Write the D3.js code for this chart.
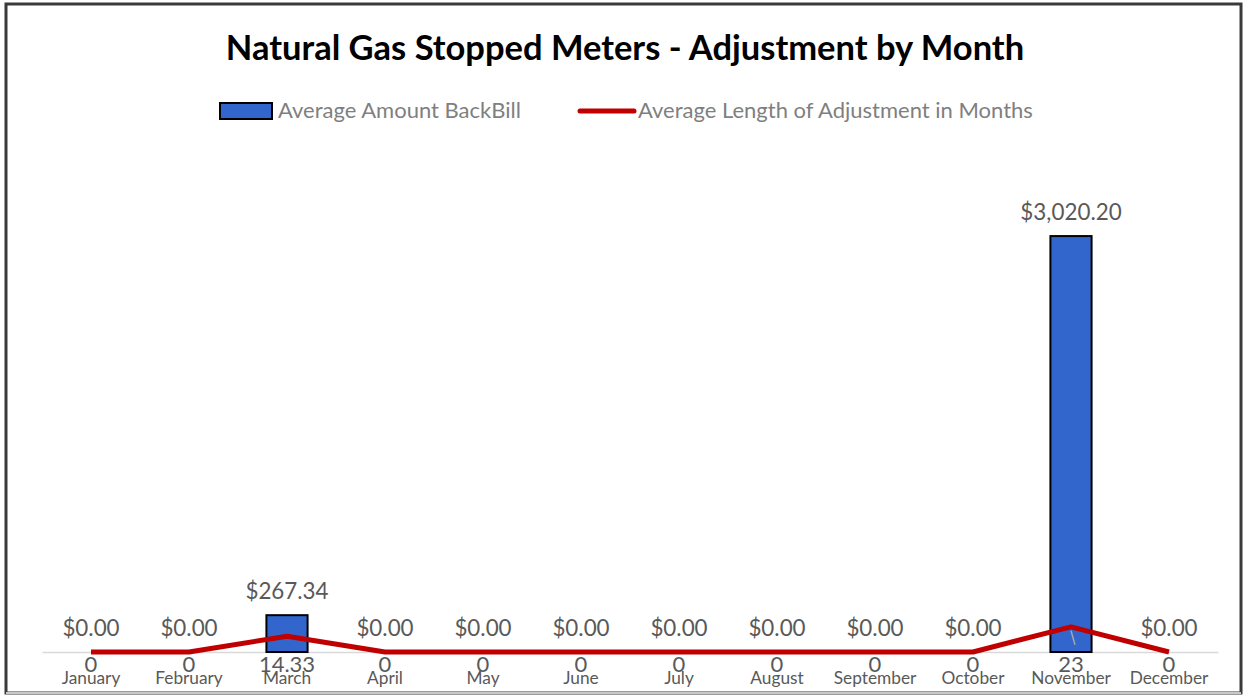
<!DOCTYPE html>
<html><head><meta charset="utf-8">
<script src="https://cdn.jsdelivr.net/npm/d3@7"></script>
<style>body{margin:0;background:#fff}svg{display:block}</style>
</head><body>
<svg id="c" width="1243" height="696"></svg>
<script>
const months = ["January","February","March","April","May","June","July","August","September","October","November","December"];
const backBill = [0,0,267.34,0,0,0,0,0,0,0,3020.20,0];
const lengthMonths = [0,0,14.33,0,0,0,0,0,0,0,23,0];
const lengthLabels = ["0","0","14.33","0","0","0","0","0","0","0","23","0"];
const title = "Natural Gas Stopped Meters - Adjustment by Month";
const seriesNames = ["Average Amount BackBill","Average Length of Adjustment in Months"];

const svg = d3.select("#c");
const FONT = "Lato, 'Open Sans', sans-serif";
const GRAY = "#595959";

// frame
svg.append("rect").attr("x",6).attr("y",4).attr("width",1235).attr("height",689)
  .attr("fill","#fff").attr("stroke","#3a3a3a").attr("stroke-width",3);
svg.append("line").attr("x1",6).attr("x2",1241).attr("y1",693).attr("y2",693).attr("stroke","#c8c8c8").attr("stroke-width",2);

svg.append("text").attr("x",625).attr("y",60).attr("text-anchor","middle")
  .attr("font-family",FONT).attr("font-weight","bold").attr("font-size",34.5).attr("fill","#000").text(title);

// legend
svg.append("rect").attr("x",220).attr("y",103).attr("width",52).attr("height",16)
  .attr("fill","#3366cc").attr("stroke","#000").attr("stroke-width",2);
svg.append("text").attr("x",278).attr("y",118).attr("font-family",FONT).attr("font-size",22).attr("fill","#7f7f7f").text(seriesNames[0]);
svg.append("line").attr("x1",580).attr("x2",634).attr("y1",111).attr("y2",111).attr("stroke","#c00000").attr("stroke-width",5).attr("stroke-linecap","round");
svg.append("text").attr("x",638).attr("y",118).attr("font-family",FONT).attr("font-size",22).attr("fill","#7f7f7f").text(seriesNames[1]);

const x = d3.scaleBand().domain(months).range([42,1218]).paddingInner(0.58).paddingOuter(0.29);
const y = d3.scaleLinear().domain([0,3500]).range([652,170]);
const y2 = d3.scaleLinear().domain([0,440]).range([652,170]);

// axis
const ax = svg.append("g").attr("transform","translate(0,652)")
  .call(d3.axisBottom(x).tickSize(0).tickPadding(0));
ax.select(".domain").attr("stroke","#d9d9d9").attr("stroke-width",1.5);
ax.selectAll(".tick text").attr("font-family",FONT).attr("font-size",17.3).attr("fill",GRAY)
  .attr("dy",null).attr("y",32);

// bars
svg.append("g").selectAll("rect").data(months).join("rect")
  .filter((d,i)=>backBill[i]>0)
  .attr("x",d=>x(d)).attr("width",x.bandwidth())
  .attr("y",d=>y(backBill[months.indexOf(d)]))
  .attr("height",d=>652-y(backBill[months.indexOf(d)]))
  .attr("fill","#3366cc").attr("stroke","#000").attr("stroke-width",2);

// leader line artifact in November
svg.append("line").attr("x1",x("November")+x.bandwidth()/2).attr("x2",x("November")+x.bandwidth()/2+4)
  .attr("y1",y2(23)+4).attr("y2",y2(23)+18).attr("stroke","#a6a6a6").attr("stroke-width",1.5);

// line
const line = d3.line().x((d,i)=>x(months[i])+x.bandwidth()/2).y(d=>y2(d));
svg.append("path").datum(lengthMonths).attr("d",line).attr("fill","none")
  .attr("stroke","#c00000").attr("stroke-width",5).attr("stroke-linejoin","round");

// bar labels
svg.append("g").selectAll("text").data(months).join("text")
  .attr("x",d=>x(d)+x.bandwidth()/2).attr("y",(d,i)=>y(backBill[i])-16)
  .attr("text-anchor","middle").attr("font-family",FONT).attr("font-size",22.4).attr("fill",GRAY)
  .text((d,i)=>d3.format("$,.2f")(backBill[i]));

// line labels
svg.append("g").selectAll("text").data(months).join("text")
  .attr("x",d=>x(d)+x.bandwidth()/2).attr("y",672)
  .attr("text-anchor","middle").attr("font-family",FONT).attr("font-size",22).attr("fill",GRAY)
  .text((d,i)=>lengthLabels[i]);
</script>
</body></html>
